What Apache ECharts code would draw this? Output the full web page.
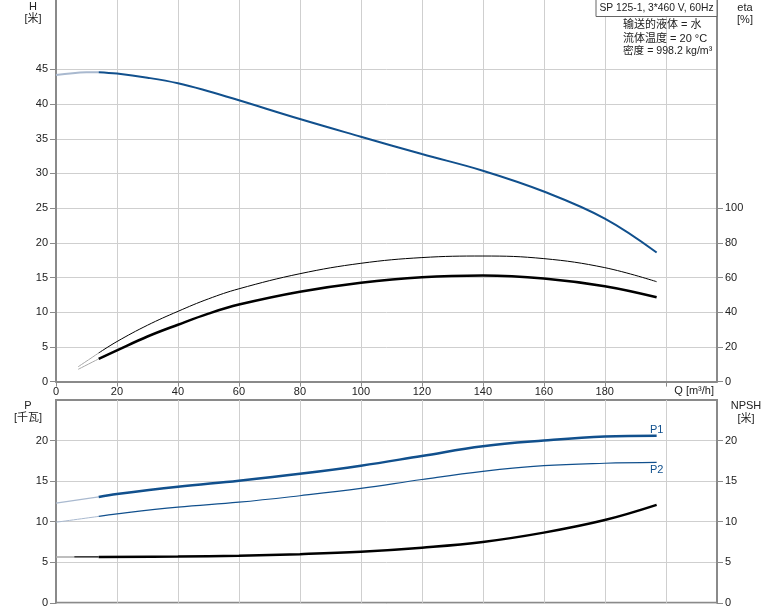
<!DOCTYPE html>
<html><head><meta charset="utf-8">
<script src="https://cdn.jsdelivr.net/npm/echarts@6/dist/echarts.min.js"></script>
<style>html,body{margin:0;padding:0;background:#fff}#c{width:774px;height:611px}</style>
</head><body><div id="c"></div>
<script>
// ---- data ----
const qTicks = [0,20,40,60,80,100,120,140,160,180];
const hTicks = [0,5,10,15,20,25,30,35,40,45];
const etaTicks = [0,20,40,60,80,100];
const pTicks = [0,5,10,15,20];

// H curve [m]
const hQLight = [0,10,14];
const hLight  = [44.2,44.57,44.6];
const hQ      = [14,20,30,40,50,60,80,100,120,140,160,180,197];
const hVal    = [44.6,44.4,43.8,43.0,41.85,40.55,37.85,35.3,32.8,30.4,27.4,23.5,18.6];

// eta curves [%]
const etaQLight = [7.3,14];
const eta1Light = [8.6,16.5];
const eta2Light = [7.1,13.1];
const etaQ   = [14,20,30,40,50,60,80,100,120,140,160,180,197];
const eta1   = [16.5,23.1,32.5,40.5,47.7,53.5,62.2,68.2,71.5,72.4,70.9,65.7,57.6];
const eta2   = [13.1,18.0,26.0,32.8,39.2,44.4,51.8,57.0,60.2,61.2,59.5,55.0,48.6];

// power curves [kW]
const pQLight = [0,14];
const p1Light = [12.28,13.05];
const p2Light = [9.93,10.65];
const pQ  = [14,20,40,60,80,100,120,140,160,180,197];
const p1  = [13.05,13.4,14.3,15.05,15.9,16.9,18.1,19.3,20.0,20.5,20.6];
const p2  = [10.65,10.97,11.8,12.4,13.2,14.1,15.2,16.2,16.9,17.2,17.3];

// NPSH [m]
const nQLight = [0,6];
const nLight  = [5.65,5.65];
const nQThin  = [6,14];
const nThin   = [5.65,5.65];
const nQ   = [14,40,60,80,100,120,140,160,180,197];
const npsh = [5.65,5.7,5.8,6.0,6.3,6.8,7.5,8.65,10.2,12.07];

const zip = (a,b)=>a.map((x,i)=>[x,b[i]]);

const BLUE = '#11508d', BLUE_L = '#a9b9cf', BLACK = '#000', GRAY_L = '#a8a8a8';
const FONT = '"Liberation Sans", Arial, "Noto Sans CJK SC", sans-serif';
const AX = '#8a8a8a', SPL = '#cfcfcf';

function line(name, data, x, y, color, width){
  return {name, type:'line', xAxisIndex:x, yAxisIndex:y, data, showSymbol:false, smooth:0.4,
    lineStyle:{color, width}, itemStyle:{color}, silent:true, animation:false};
}

const chart = echarts.init(document.getElementById('c'), null, {renderer:'canvas'});
const lbl = {fontFamily:FONT, fontSize:11, color:'#222'};

chart.setOption({
  animation:false,
  grid:[
    {left:56, right:57, top:0, bottom:229.4, containLabel:false},
    {left:56, right:57, top:400, bottom:8.2, containLabel:false, show:true, borderColor:AX, borderWidth:2, backgroundColor:'transparent'}
  ],
  xAxis:[
    {type:'value', gridIndex:0, min:0, max:216.8, interval:20,
     axisLine:{show:true, onZero:false, lineStyle:{color:AX, width:2}},
     axisTick:{show:true, length:5, lineStyle:{color:AX}, customValues:[0,20,40,60,80,100,120,140,160,180,200]},
     axisLabel:Object.assign({margin:5, customValues:qTicks}, lbl),
     splitLine:{show:true, lineStyle:{color:SPL, width:1}}},
    {type:'value', gridIndex:1, min:0, max:216.8, interval:20,
     axisLine:{show:false}, axisTick:{show:false}, axisLabel:{show:false},
     splitLine:{show:true, lineStyle:{color:SPL, width:1}}}
  ],
  yAxis:[
    {type:'value', gridIndex:0, min:0, max:55, interval:5, position:'left',
     axisLine:{show:true, onZero:false, lineStyle:{color:AX, width:2}},
     axisTick:{show:true, length:6, lineStyle:{color:AX}, customValues:hTicks},
     axisLabel:Object.assign({margin:8, customValues:hTicks}, lbl),
     splitLine:{show:true, lineStyle:{color:SPL, width:1}}},
    {type:'value', gridIndex:0, min:0, max:220, interval:20, position:'right',
     axisLine:{show:true, onZero:false, lineStyle:{color:AX, width:2}},
     axisTick:{show:true, length:6, lineStyle:{color:AX}, customValues:etaTicks},
     axisLabel:Object.assign({margin:8, customValues:etaTicks}, lbl),
     splitLine:{show:false}},
    {type:'value', gridIndex:1, min:0, max:25, interval:5, position:'left',
     axisLine:{show:true, onZero:false, lineStyle:{color:AX, width:2}},
     axisTick:{show:true, length:6, lineStyle:{color:AX}, customValues:pTicks},
     axisLabel:Object.assign({margin:8, customValues:pTicks}, lbl),
     splitLine:{show:true, lineStyle:{color:SPL, width:1}}},
    {type:'value', gridIndex:1, min:0, max:25, interval:5, position:'right',
     axisLine:{show:true, onZero:false, lineStyle:{color:AX, width:2}},
     axisTick:{show:true, length:6, lineStyle:{color:AX}, customValues:pTicks},
     axisLabel:Object.assign({margin:8, customValues:pTicks}, lbl),
     splitLine:{show:false}}
  ],
  series:[
    line('H light', zip(hQLight,hLight), 0,0, BLUE_L, 2),
    line('H', zip(hQ,hVal), 0,0, BLUE, 2),
    line('eta1 light', zip(etaQLight,eta1Light), 0,1, GRAY_L, 1),
    line('eta1', zip(etaQ,eta1), 0,1, BLACK, 1),
    line('eta2 light', zip(etaQLight,eta2Light), 0,1, GRAY_L, 1),
    line('eta2', zip(etaQ,eta2), 0,1, BLACK, 2.5),
    line('P1 light', zip(pQLight,p1Light), 1,2, BLUE_L, 1.2),
    Object.assign(line('P1', zip(pQ,p1), 1,2, BLUE, 2.5),
      {endLabel:{show:true, formatter:'P1', color:BLUE, fontFamily:FONT, fontSize:11, distance:0, align:'center', verticalAlign:'middle', offset:[0,-6]}}),
    line('P2 light', zip(pQLight,p2Light), 1,2, BLUE_L, 1),
    Object.assign(line('P2', zip(pQ,p2), 1,2, BLUE, 1.2),
      {endLabel:{show:true, formatter:'P2', color:BLUE, fontFamily:FONT, fontSize:11, distance:0, align:'center', verticalAlign:'middle', offset:[0,8]}}),
    line('NPSH light', zip(nQLight,nLight), 1,3, GRAY_L, 1.5),
    line('NPSH thin', zip(nQThin,nThin), 1,3, BLACK, 1.2),
    line('NPSH', zip(nQ,npsh), 1,3, BLACK, 2.5)
  ],
  graphic:[
    {type:'text', x:33, y:7, style:{text:'H', font:'11px '+FONT, fill:'#222', align:'center', verticalAlign:'middle'}},
    {type:'text', x:33, y:19, style:{text:'[米]', font:'11px '+FONT, fill:'#222', align:'center', verticalAlign:'middle'}},
    {type:'text', x:745, y:8, style:{text:'eta', font:'11px '+FONT, fill:'#222', align:'center', verticalAlign:'middle'}},
    {type:'text', x:745, y:20, style:{text:'[%]', font:'11px '+FONT, fill:'#222', align:'center', verticalAlign:'middle'}},
    {type:'text', x:28, y:406, style:{text:'P', font:'11px '+FONT, fill:'#222', align:'center', verticalAlign:'middle'}},
    {type:'text', x:28, y:418, style:{text:'[千瓦]', font:'11px '+FONT, fill:'#222', align:'center', verticalAlign:'middle'}},
    {type:'text', x:746, y:406, style:{text:'NPSH', font:'11px '+FONT, fill:'#222', align:'center', verticalAlign:'middle'}},
    {type:'text', x:746, y:419, style:{text:'[米]', font:'11px '+FONT, fill:'#222', align:'center', verticalAlign:'middle'}},
    {type:'text', x:714, y:391, style:{text:'Q [m³/h]', font:'11px '+FONT, fill:'#222', align:'right', verticalAlign:'middle'}},
    {type:'rect', shape:{x:596, y:-1, width:121, height:17.5}, style:{fill:'#fff', stroke:'#666', lineWidth:1}, z:10},
    {type:'text', x:656.5, y:8, z:11, style:{text:'SP 125-1, 3*460 V, 60Hz', font:'10.3px '+FONT, fill:'#222', align:'center', verticalAlign:'middle'}},
    {type:'text', x:623, y:25, z:11, style:{text:'输送的液体 = 水', font:'11px '+FONT, fill:'#222', align:'left', verticalAlign:'middle'}},
    {type:'text', x:623, y:38.5, z:11, style:{text:'流体温度 = 20 °C', font:'11px '+FONT, fill:'#222', align:'left', verticalAlign:'middle'}},
    {type:'text', x:623, y:51.5, z:11, style:{text:'密度 = 998.2 kg/m³', font:'10.6px '+FONT, fill:'#222', align:'left', verticalAlign:'middle'}}
  ]
});
</script></body></html>
